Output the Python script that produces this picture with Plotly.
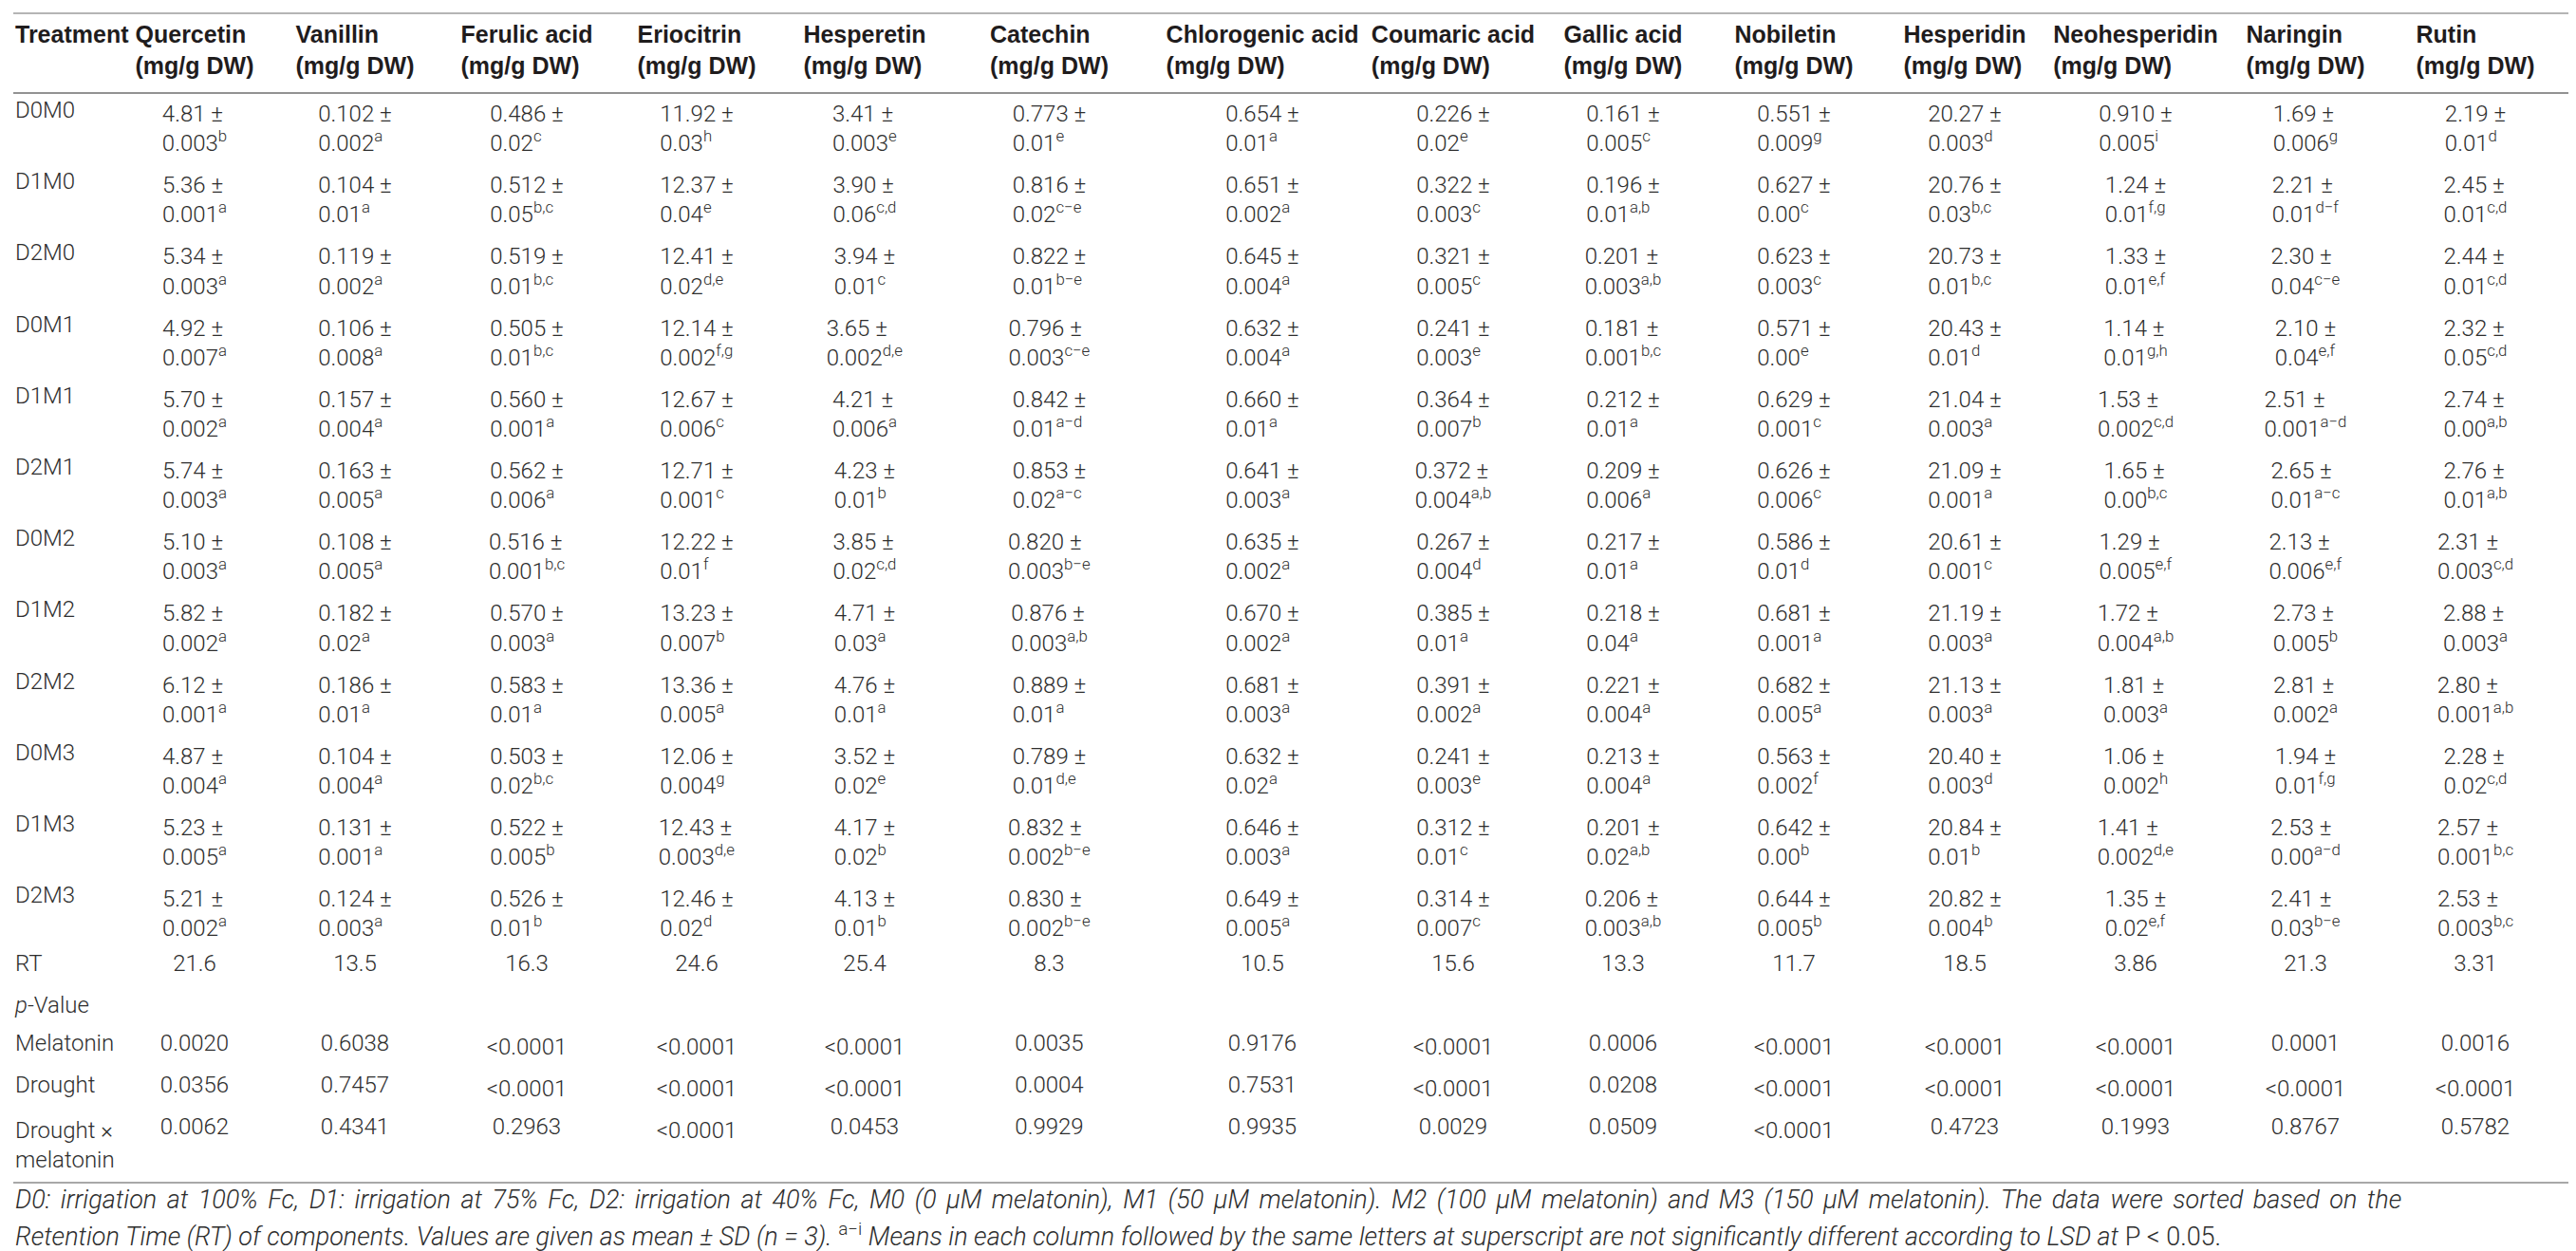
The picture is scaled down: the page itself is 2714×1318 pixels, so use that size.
import plotly.graph_objects as go

W, H = 2714, 1318

treatments = ["D0M0", "D1M0", "D2M0", "D0M1", "D1M1", "D2M1",
              "D0M2", "D1M2", "D2M2", "D0M3", "D1M3", "D2M3"]
compounds = ["Quercetin", "Vanillin", "Ferulic acid", "Eriocitrin", "Hesperetin",
             "Catechin", "Chlorogenic acid", "Coumaric acid", "Gallic acid",
             "Nobiletin", "Hesperidin", "Neohesperidin", "Naringin", "Rutin"]
unit = "(mg/g DW)"

# rows = treatments, columns = compounds (kept as text to keep the printed digits)
mean_rows = [
    ["4.81", "0.102", "0.486", "11.92", "3.41", "0.773", "0.654", "0.226", "0.161", "0.551", "20.27", "0.910", "1.69", "2.19"],
    ["5.36", "0.104", "0.512", "12.37", "3.90", "0.816", "0.651", "0.322", "0.196", "0.627", "20.76", "1.24", "2.21", "2.45"],
    ["5.34", "0.119", "0.519", "12.41", "3.94", "0.822", "0.645", "0.321", "0.201", "0.623", "20.73", "1.33", "2.30", "2.44"],
    ["4.92", "0.106", "0.505", "12.14", "3.65", "0.796", "0.632", "0.241", "0.181", "0.571", "20.43", "1.14", "2.10", "2.32"],
    ["5.70", "0.157", "0.560", "12.67", "4.21", "0.842", "0.660", "0.364", "0.212", "0.629", "21.04", "1.53", "2.51", "2.74"],
    ["5.74", "0.163", "0.562", "12.71", "4.23", "0.853", "0.641", "0.372", "0.209", "0.626", "21.09", "1.65", "2.65", "2.76"],
    ["5.10", "0.108", "0.516", "12.22", "3.85", "0.820", "0.635", "0.267", "0.217", "0.586", "20.61", "1.29", "2.13", "2.31"],
    ["5.82", "0.182", "0.570", "13.23", "4.71", "0.876", "0.670", "0.385", "0.218", "0.681", "21.19", "1.72", "2.73", "2.88"],
    ["6.12", "0.186", "0.583", "13.36", "4.76", "0.889", "0.681", "0.391", "0.221", "0.682", "21.13", "1.81", "2.81", "2.80"],
    ["4.87", "0.104", "0.503", "12.06", "3.52", "0.789", "0.632", "0.241", "0.213", "0.563", "20.40", "1.06", "1.94", "2.28"],
    ["5.23", "0.131", "0.522", "12.43", "4.17", "0.832", "0.646", "0.312", "0.201", "0.642", "20.84", "1.41", "2.53", "2.57"],
    ["5.21", "0.124", "0.526", "12.46", "4.13", "0.830", "0.649", "0.314", "0.206", "0.644", "20.82", "1.35", "2.41", "2.53"],
]
sd_rows = [
    ["0.003", "0.002", "0.02", "0.03", "0.003", "0.01", "0.01", "0.02", "0.005", "0.009", "0.003", "0.005", "0.006", "0.01"],
    ["0.001", "0.01", "0.05", "0.04", "0.06", "0.02", "0.002", "0.003", "0.01", "0.00", "0.03", "0.01", "0.01", "0.01"],
    ["0.003", "0.002", "0.01", "0.02", "0.01", "0.01", "0.004", "0.005", "0.003", "0.003", "0.01", "0.01", "0.04", "0.01"],
    ["0.007", "0.008", "0.01", "0.002", "0.002", "0.003", "0.004", "0.003", "0.001", "0.00", "0.01", "0.01", "0.04", "0.05"],
    ["0.002", "0.004", "0.001", "0.006", "0.006", "0.01", "0.01", "0.007", "0.01", "0.001", "0.003", "0.002", "0.001", "0.00"],
    ["0.003", "0.005", "0.006", "0.001", "0.01", "0.02", "0.003", "0.004", "0.006", "0.006", "0.001", "0.00", "0.01", "0.01"],
    ["0.003", "0.005", "0.001", "0.01", "0.02", "0.003", "0.002", "0.004", "0.01", "0.01", "0.001", "0.005", "0.006", "0.003"],
    ["0.002", "0.02", "0.003", "0.007", "0.03", "0.003", "0.002", "0.01", "0.04", "0.001", "0.003", "0.004", "0.005", "0.003"],
    ["0.001", "0.01", "0.01", "0.005", "0.01", "0.01", "0.003", "0.002", "0.004", "0.005", "0.003", "0.003", "0.002", "0.001"],
    ["0.004", "0.004", "0.02", "0.004", "0.02", "0.01", "0.02", "0.003", "0.004", "0.002", "0.003", "0.002", "0.01", "0.02"],
    ["0.005", "0.001", "0.005", "0.003", "0.02", "0.002", "0.003", "0.01", "0.02", "0.00", "0.01", "0.002", "0.00", "0.001"],
    ["0.002", "0.003", "0.01", "0.02", "0.01", "0.002", "0.005", "0.007", "0.003", "0.005", "0.004", "0.02", "0.03", "0.003"],
]
sig_rows = [
    ["b", "a", "c", "h", "e", "e", "a", "e", "c", "g", "d", "i", "g", "d"],
    ["a", "a", "b,c", "e", "c,d", "c−e", "a", "c", "a,b", "c", "b,c", "f,g", "d−f", "c,d"],
    ["a", "a", "b,c", "d,e", "c", "b−e", "a", "c", "a,b", "c", "b,c", "e,f", "c−e", "c,d"],
    ["a", "a", "b,c", "f,g", "d,e", "c−e", "a", "e", "b,c", "e", "d", "g,h", "e,f", "c,d"],
    ["a", "a", "a", "c", "a", "a−d", "a", "b", "a", "c", "a", "c,d", "a−d", "a,b"],
    ["a", "a", "a", "c", "b", "a−c", "a", "a,b", "a", "c", "a", "b,c", "a−c", "a,b"],
    ["a", "a", "b,c", "f", "c,d", "b−e", "a", "d", "a", "d", "c", "e,f", "e,f", "c,d"],
    ["a", "a", "a", "b", "a", "a,b", "a", "a", "a", "a", "a", "a,b", "b", "a"],
    ["a", "a", "a", "a", "a", "a", "a", "a", "a", "a", "a", "a", "a", "a,b"],
    ["a", "a", "b,c", "g", "e", "d,e", "a", "e", "a", "f", "d", "h", "f,g", "c,d"],
    ["a", "a", "b", "d,e", "b", "b−e", "a", "c", "a,b", "b", "b", "d,e", "a−d", "b,c"],
    ["a", "a", "b", "d", "b", "b−e", "a", "c", "a,b", "b", "b", "e,f", "b−e", "b,c"],
]
rt_values = ["21.6", "13.5", "16.3", "24.6", "25.4", "8.3", "10.5", "15.6", "13.3",
             "11.7", "18.5", "3.86", "21.3", "3.31"]
p_melatonin = ["0.0020", "0.6038", "<0.0001", "<0.0001", "<0.0001", "0.0035", "0.9176",
               "<0.0001", "0.0006", "<0.0001", "<0.0001", "<0.0001", "0.0001", "0.0016"]
p_drought = ["0.0356", "0.7457", "<0.0001", "<0.0001", "<0.0001", "0.0004", "0.7531",
             "<0.0001", "0.0208", "<0.0001", "<0.0001", "<0.0001", "<0.0001", "<0.0001"]
p_interaction = ["0.0062", "0.4341", "0.2963", "<0.0001", "0.0453", "0.9929", "0.9935",
                 "0.0029", "0.0509", "<0.0001", "0.4723", "0.1993", "0.8767", "0.5782"]
stat_labels = ["<i>p</i>-Value", "Melatonin", "Drought", "Drought ×<br>melatonin"]

footnote_1 = ("D0: irrigation at 100% Fc, D1: irrigation at 75% Fc, D2: irrigation at 40% Fc, "
              "M0 (0 μM melatonin), M1 (50 μM melatonin). M2 (100 μM melatonin) and "
              "M3 (150 μM melatonin). The data were sorted based on the")
footnote_2 = ("<i>Retention Time (RT) of components. Values are given as mean ± SD (n = 3).</i> "
              "<sup>a−i</sup><i> Means in each column followed by the same letters at superscript "
              "are not significantly different according to LSD at</i> P &lt; 0.05.")

# ---- styling ----
BODY_FONT = "Roboto, Liberation Sans, Arial, sans-serif"
HEAD_FONT = "Liberation Sans, Arial, Helvetica, sans-serif"
BODY = "#2e2e2e"
HEAD = "#1f1c1d"
col_px = [133, 128, 210, 152, 206, 148, 241, 208, 194, 164, 196, 164, 196, 162, 196]
aligns = ["left"] + ["center"] * len(compounds)
none_line = dict(width=0, color="rgba(0,0,0,0)")
body_font = dict(family=BODY_FONT, size=24, color=BODY, weight=300)


def py(px):
    return 1 - px / H


def esc(s):
    return s.replace("<", "&lt;")


header_vals = ["<b>Treatment</b>"] + [f"<b>{c}<br>{unit}</b>" for c in compounds]
data_cols = [treatments]
for j in range(len(compounds)):
    data_cols.append([f"{mean_rows[i][j]} ±<br>{sd_rows[i][j]}<sup>{sig_rows[i][j]}</sup>"
                      for i in range(len(treatments))])

stat_cols = [stat_labels]
for j in range(len(compounds)):
    stat_cols.append(["", esc(p_melatonin[j]), esc(p_drought[j]), esc(p_interaction[j])])

table_w = sum(col_px) / W

fig = go.Figure()
fig.add_trace(go.Table(
    domain=dict(x=[0, table_w], y=[py(988), py(6)]),
    columnwidth=col_px,
    header=dict(values=header_vals, align=aligns, height=84, fill_color="white",
                line=none_line, font=dict(family=HEAD_FONT, size=25, color=HEAD)),
    cells=dict(values=data_cols, align=aligns, height=74.5, fill_color="white",
               line=none_line, font=body_font),
))
fig.add_trace(go.Table(
    domain=dict(x=[0, table_w], y=[py(1250), py(989)]),
    columnwidth=col_px,
    header=dict(values=["RT"] + rt_values, align=aligns, height=40, fill_color="white",
                line=none_line, font=body_font),
    cells=dict(values=stat_cols, align=aligns, height=40.5, fill_color="white",
               line=none_line, font=body_font),
))

# horizontal rules of the table
for ypx, colr, lw in [(6, "#b5b5b5", 2), (90, "#6e6e6e", 1.5), (1238, "#a8a8a8", 2)]:
    fig.add_shape(type="line", xref="paper", yref="paper", x0=6 / W, x1=2708 / W,
                  y0=py(ypx), y1=py(ypx), line=dict(color=colr, width=lw))

fig.add_annotation(text=f'<span style="word-spacing:4px"><i>{footnote_1}</i></span>',
                   xref="paper", yref="paper",
                   x=6 / W, y=py(1256), xanchor="left", yanchor="middle", showarrow=False,
                   font=dict(family=BODY_FONT, size=27, color="#2e2e2e", weight=300))
fig.add_annotation(text=footnote_2, xref="paper", yref="paper",
                   x=6 / W, y=py(1293), xanchor="left", yanchor="middle", showarrow=False,
                   font=dict(family=BODY_FONT, size=27, color="#2e2e2e", weight=300))

fig.update_layout(width=W, height=H, margin=dict(l=0, r=0, t=0, b=0),
                  paper_bgcolor="white", plot_bgcolor="white", showlegend=False)
fig.write_html("out.html")
